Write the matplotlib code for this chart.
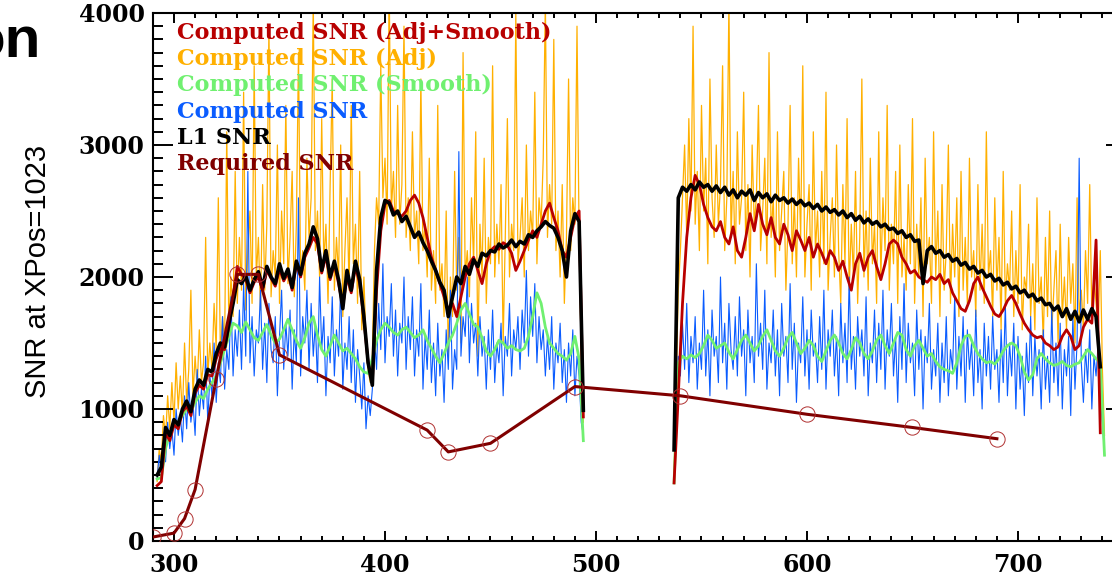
import numpy as np
import matplotlib
matplotlib.use("Agg")
import matplotlib.pyplot as plt
from matplotlib.ticker import MultipleLocator

# ---------------- data ----------------
# Wavelength grids: two detector segments
seg_a_start, seg_b_start = 292, 537

# L1 SNR (2 nm sampling)
l1_a = [500, 560, 860, 800, 920, 880, 1000, 1060, 980, 1150, 1220,
        1180, 1300, 1280, 1420, 1500, 1470, 1650, 1800, 1980, 1950,
        2010, 1900, 1980, 2040, 1920, 2080, 2000, 1950, 2100, 1990,
        2060, 1920, 2120, 2020, 2180, 2250, 2380, 2290, 2050, 2200,
        2000, 2120, 1980, 1760, 2050, 1900, 2120, 1980, 1700, 1350,
        1180, 2050, 2450, 2580, 2560, 2470, 2500, 2420, 2460, 2380,
        2300, 2340, 2260, 2200, 2120, 2050, 1960, 1900, 1700, 1850,
        2000, 1950, 2080, 2020, 2130, 2080, 2180, 2160, 2200, 2190,
        2250, 2220, 2240, 2280, 2230, 2270, 2250, 2320, 2300, 2350,
        2380, 2420, 2390, 2370, 2300, 2200, 2000, 2350, 2480, 2420,
        990]
l1_b = [690, 2600, 2680, 2650, 2700, 2660, 2720, 2680, 2700, 2650, 2690,
        2640, 2680, 2620, 2660, 2600, 2650, 2620, 2660, 2580, 2640,
        2600, 2630, 2570, 2620, 2580, 2600, 2560, 2590, 2550, 2580,
        2540, 2560, 2520, 2550, 2500, 2530, 2490, 2510, 2470, 2500,
        2450, 2480, 2430, 2460, 2410, 2440, 2400, 2420, 2380, 2400,
        2360, 2370, 2330, 2350, 2300, 2320, 2270, 2280, 1950, 2200,
        2230, 2180, 2200, 2150, 2170, 2120, 2140, 2090, 2110, 2060,
        2080, 2030, 2050, 2000, 2020, 1970, 1990, 1940, 1960, 1910,
        1930, 1880, 1900, 1850, 1870, 1820, 1840, 1790, 1800, 1750,
        1780, 1700, 1760, 1680, 1740, 1660, 1750, 1680, 1760, 1700,
        1320]

# Computed SNR (Adj+Smooth), 2 nm sampling
adj_smooth_a = [420, 450, 820, 760, 880, 850, 980, 1020, 950, 1120, 1180,
                1150, 1260, 1250, 1380, 1460, 1450, 1620, 1850, 2080, 2020,
                1980, 1880, 1960, 2000, 1900, 2050, 1990, 1930, 2060, 1970,
                2030, 1900, 2100, 2000, 2150, 2220, 2300, 2250, 2030, 2160,
                1980, 2100, 1950, 1780, 2000, 1880, 2080, 1950, 1680, 1350,
                1200, 1900, 2350, 2550, 2580, 2500, 2480, 2460, 2500, 2580,
                2620, 2560, 2450, 2300, 2150, 2050, 1950, 1850, 1750, 1800,
                1700, 1850, 2000, 2100, 2150, 2050, 1950, 2100, 2200, 2230,
                2210, 2260, 2240, 2180, 2050, 2120, 2200, 2280, 2350, 2300,
                2400, 2500, 2560, 2450, 2350, 2200, 2150, 2300, 2450, 2500,
                940]
adj_smooth_b = [440, 1100, 1800, 2300, 2600, 2770, 2700, 2550, 2450, 2380, 2350,
                2420, 2300, 2250, 2380, 2200, 2150, 2300, 2480, 2350, 2550,
                2400, 2320, 2450, 2300, 2250, 2400, 2320, 2200, 2350, 2280,
                2200, 2300, 2150, 2250, 2180, 2100, 2200, 2150, 2050, 2120,
                2000, 1900, 2100, 2180, 2050, 2150, 2200, 2080, 1980, 2100,
                2250, 2280, 2250, 2150, 2100, 2030, 2050, 2000, 1980, 1960,
                2000, 1980, 2020, 1950, 1980, 1880, 1820, 1760, 1740, 1820,
                1950, 2000, 1920, 1850, 1780, 1720, 1700, 1750, 1820, 1860,
                1800, 1720, 1650, 1600, 1560, 1540, 1550, 1500, 1480, 1450,
                1470, 1550, 1600, 1550, 1450, 1480, 1620, 1680, 1650, 2280,
                820]

# Computed SNR (Smooth), 2 nm sampling
smooth_a = [470, 480, 700, 820, 880, 900, 950, 1000, 980, 1050, 1100,
            1080, 1150, 1200, 1250, 1350, 1450, 1550, 1650, 1630, 1580,
            1660, 1600, 1540, 1520, 1580, 1640, 1560, 1500, 1530, 1600,
            1680, 1600, 1520, 1460, 1540, 1650, 1700, 1560, 1450, 1400,
            1480, 1560, 1500, 1440, 1460, 1420, 1380, 1320, 1280, 1270,
            1380, 1520, 1600, 1650, 1620, 1580, 1560, 1600, 1620, 1580,
            1540, 1560, 1600, 1520, 1460, 1400, 1350, 1420, 1500, 1560,
            1650, 1750, 1800, 1720, 1640, 1620, 1540, 1440, 1400, 1450,
            1520, 1500, 1460, 1480, 1450, 1440, 1460, 1550, 1700, 1880,
            1800, 1620, 1500, 1460, 1420, 1400, 1370, 1420, 1550, 1380,
            760]
smooth_b = [440, 1350, 1400, 1380, 1410, 1390, 1420, 1480, 1560, 1520, 1460,
            1480, 1500, 1430, 1380, 1450, 1520, 1560, 1500, 1440, 1480,
            1550, 1600, 1520, 1440, 1400, 1460, 1540, 1580, 1500, 1420,
            1460, 1520, 1480, 1400, 1360, 1440, 1520, 1560, 1500, 1420,
            1380, 1450, 1540, 1500, 1420, 1380, 1440, 1520, 1560, 1480,
            1420, 1500, 1580, 1560, 1450, 1400, 1480, 1520, 1460, 1400,
            1420, 1360, 1320, 1300, 1290, 1270, 1350, 1480, 1550, 1560,
            1480, 1420, 1380, 1350, 1360, 1340, 1380, 1440, 1480, 1500,
            1480, 1400, 1280, 1220, 1260, 1380, 1420, 1380, 1350, 1330,
            1340, 1360, 1330, 1320, 1340, 1350, 1400, 1450, 1420, 1380,
            1350, 650]

# Computed SNR (Adj), 1 nm sampling
adj_a = [450, 700, 600, 950, 780, 1100, 850, 1200, 900, 1350,
         1000, 1250, 950, 1500, 1050, 1300, 1900, 1100, 1400, 1150,
         1600, 1200, 1350, 2300, 1250, 1500, 1300, 1800, 1450, 2600,
         1400, 1700, 1500, 3100, 1600, 2000, 1700, 2800, 1800, 2300,
         1900, 3400, 1750, 2200, 2500, 1800, 3600, 2000, 2300, 1750,
         2700, 1900, 2400, 3900, 1850, 2200, 2000, 3000, 1800, 2500,
         2100, 3300, 1950, 2300, 2800, 1850, 2400, 3700, 2000, 2200,
         1900, 2900, 2300, 2600, 4100, 2200, 2500, 2000, 3200, 2100,
         2400, 1800, 2700, 3500, 1900, 2300, 2000, 3000, 1700, 2200,
         2600, 1900, 3300, 2100, 2400, 1800, 2800, 1600, 2000, 1500,
         1300, 1200, 1400, 2200, 2600, 2400, 3600, 2600, 2900, 2400,
         4200, 2500, 2800, 2300, 3300, 2400, 2700, 3900, 2300, 2600,
         2200, 3100, 2300, 2500, 2100, 3500, 2200, 2400, 2000, 2900,
         1900, 2200, 1800, 3300, 1900, 2100, 1700, 2500, 1400, 2000,
         1700, 2800, 1900, 2300, 1500, 3700, 2000, 2200, 1850, 2600,
         2100, 3100, 1400, 2400, 2000, 2900, 1800, 2300, 2100, 3600,
         2000, 2400, 2100, 2700, 1500, 2300, 3200, 2000, 2400, 2200,
         4000, 2100, 2300, 2600, 2000, 3000, 2200, 2500, 2300, 3400,
         2100, 2600, 2400, 2900, 4100, 2300, 2700, 2400, 3800, 2200,
         2500, 2000, 2700, 1800, 2300, 3500, 2200, 2600, 2400, 3900,
         2300, 1400, 900]
adj_b = [500, 1200, 1900, 2200, 2600, 3000, 2300, 3200, 2500, 3900,
         2400, 2800, 2200, 3300, 2500, 2900, 2100, 3500, 2600, 2300,
         3000, 2400, 2700, 3600, 2200, 2600, 4100, 2300, 2800, 2100,
         3100, 2400, 2600, 3400, 2200, 2700, 2000, 3000, 2400, 2600,
         3300, 2200, 2500, 2900, 2100, 3700, 2300, 2600, 2000, 3100,
         2200, 2500, 2800, 1900, 2400, 3300, 2100, 2600, 2000, 2900,
         2300, 3600, 2000, 2400, 2700, 1900, 3100, 2200, 2500, 2000,
         2800, 2100, 3400, 1900, 2300, 2600, 2000, 3000, 2200, 1800,
         2700, 2100, 3200, 1900, 2400, 2000, 2800, 1800, 2300, 3500,
         2000, 2500, 1900, 2900, 2100, 2400, 1800, 3100, 2000, 2600,
         2200, 3300, 1900, 2400, 2100, 2800, 1800, 3000, 2000, 2300,
         1900, 2700, 2100, 3200, 1800, 2400, 2000, 2600, 1700, 2900,
         2100, 2300, 1800, 3100, 2000, 2500, 1700, 2700, 1900, 2200,
         3000, 1800, 2400, 2000, 2600, 1700, 2800, 1900, 2300, 1800,
         2900, 2000, 2200, 1700, 2700, 1900, 2400, 1800, 3100, 2000,
         2200, 1700, 2600, 1900, 2300, 1600, 2800, 1800, 2100, 1900,
         2500, 1700, 2200, 1800, 2700, 1600, 2000, 1900, 2400, 1700,
         2100, 1600, 2600, 1800, 2000, 1500, 2300, 1700, 2500, 1600,
         1900, 2200, 1500, 2400, 1700, 2000, 1600, 2300, 1800, 2100,
         1500, 2600, 1700, 1900, 1600, 2200, 1800, 2700, 1700, 2000,
         1800, 1600, 2200, 1300, 800]

# Computed SNR, 1 nm sampling
comp_a = [480, 650, 500, 750, 600, 900, 700, 850, 650, 1000,
          800, 950, 750, 1100, 850, 1200, 900, 1050, 800, 1300,
          950, 1150, 1000, 1400, 900, 1250, 1100, 1500, 1050, 1350,
          1200, 1700, 1150, 1450, 1300, 1850, 1250, 1600, 1400, 1750,
          1300, 1950, 1400, 2800, 1350, 1700, 1250, 1600, 1500, 1900,
          1300, 1650, 1200, 1800, 1450, 1350, 1700, 1100, 1550, 1900,
          1300, 1650, 1400, 1750, 1150, 1600, 1350, 2600, 1250, 1700,
          1500, 1900, 1300, 1800, 1400, 1650, 1200, 2000, 1450, 1700,
          1100, 1550, 1350, 1850, 1250, 1600, 1400, 1950, 1150, 1500,
          1300, 1700, 1200, 1600, 1050, 1450, 1250, 1000, 1350, 850,
          1100, 950, 1150, 1550, 1300, 1800, 1450, 2100, 1350, 1700,
          1550, 1950, 1400, 1750, 1250, 1650, 1500, 2000, 1300, 1700,
          1450, 1850, 1250, 1600, 1400, 1950, 1150, 1550, 1300, 1750,
          1200, 1500, 1100, 1650, 1250, 1450, 1050, 1600, 1300, 1900,
          1150, 1450, 1300, 2950, 1400, 1700, 1550, 2000, 1350, 1800,
          1500, 1650, 1250, 1700, 1400, 1550, 1150, 1600, 1300, 1750,
          1200, 1500, 1350, 1650, 1100, 1550, 1400, 1800, 1250, 1600,
          1450, 1700, 1300, 1750, 1500, 2050, 1400, 1850, 1550, 1950,
          1350, 1700, 1450, 1600, 1250, 1550, 1300, 1700, 1150, 1500,
          1350, 1650, 1200, 1450, 1050, 1500, 1250, 1600, 1100, 1400,
          1250, 900, 800]
comp_b = [450, 900, 1400, 1250, 1650, 1300, 1800, 1200, 1550, 1350,
          1700, 1150, 1500, 1300, 1900, 1250, 1600, 1100, 1750, 1400,
          1550, 1200, 2000, 1350, 1650, 1150, 1800, 1450, 1300, 1700,
          1250, 1850, 1400, 1600, 1100, 1750, 1350, 1550, 1200, 2100,
          1400, 1650, 1300, 1900, 1150, 1500, 1350, 1750, 1250, 1600,
          1100, 1800, 1400, 1550, 1200, 1950, 1300, 1650, 1050, 1500,
          1350, 1850, 1250, 1600, 1150, 1750, 1400, 1500, 1200, 1700,
          1300, 1900, 1150, 1600, 1400, 1750, 1250, 1550, 1100, 1800,
          1350, 1650, 1200, 2000, 1300, 1550, 1150, 1700, 1400, 1600,
          1250, 1850, 1100, 1500, 1350, 1750, 1200, 1650, 1300, 1900,
          1150, 1600, 1400, 1800, 1250, 1550, 1050, 1700, 1300, 1950,
          1200, 1650, 1350, 1500, 1100, 1750, 1300, 1600, 1000, 1550,
          1350, 1800, 1150, 1450, 1250, 1650, 1050, 1500, 1200, 1700,
          1100, 1450, 1300, 1850, 1150, 1550, 1250, 1700, 1050, 1600,
          1300, 1500, 1100, 1750, 1200, 1450, 1000, 1650, 1250, 1550,
          1150, 1700, 1300, 1450, 1050, 1600, 1200, 1800, 1100, 1500,
          1250, 1650, 1000, 1550, 1150, 1400, 950, 1500, 1200, 1700,
          1100, 1550, 1250, 1450, 1000, 1600, 1150, 1400, 1050, 1750,
          1200, 1500, 1100, 1650, 1000, 1450, 1250, 1550, 950, 1700,
          1150, 1500, 2900, 1350, 1050, 1450, 1200, 1600, 1000, 1400,
          1250, 1500, 1100, 900, 650]

# Required SNR specification points
req_wl = [290, 300, 305, 310, 320, 330, 340, 350, 420, 430, 450, 490, 540, 600, 650, 690]
req_snr = [30, 60, 170, 390, 1230, 2020, 2020, 1410, 840, 675, 740, 1170, 1100, 960, 860, 775]

legend_labels = ["Computed SNR (Adj+Smooth)", "Computed SNR (Adj)",
                 "Computed SNR (Smooth)", "Computed SNR", "L1 SNR", "Required SNR"]
legend_colors = ["#B80000", "#FFB000", "#70F070", "#0A5CFF", "#000000", "#800000"]


def joined(a, b, step):
    """Place two segments on their wavelength grid with a gap between them."""
    xa = seg_a_start + step * np.arange(len(a))
    xb = seg_b_start + step * np.arange(len(b))
    x = np.concatenate([xa, [np.nan], xb])
    y = np.concatenate([np.asarray(a, float), [np.nan], np.asarray(b, float)])
    return x, y


# ---------------- figure ----------------
W, H = 1112, 582
fig = plt.figure(figsize=(W / 100, H / 100), dpi=100)
ax_left, ax_right, ax_top, ax_bot = 152.9, 1125.6, 13, 541
ax = fig.add_axes([ax_left / W, (H - ax_bot) / H,
                   (ax_right - ax_left) / W, (ax_bot - ax_top) / H])

x, y = joined(adj_a, adj_b, 1)
ax.plot(x, y, color=legend_colors[1], lw=0.9, zorder=1)
x, y = joined(comp_a, comp_b, 1)
ax.plot(x, y, color=legend_colors[3], lw=0.8, zorder=2)
x, y = joined(smooth_a, smooth_b, 2)
ax.plot(x, y, color=legend_colors[2], lw=2.0, zorder=3)
x, y = joined(adj_smooth_a, adj_smooth_b, 2)
ax.plot(x, y, color=legend_colors[0], lw=2.0, zorder=4)
x, y = joined(l1_a, l1_b, 2)
ax.plot(x, y, color=legend_colors[4], lw=2.6, zorder=5)

ax.plot(req_wl, req_snr, color=legend_colors[5], lw=2.2, zorder=6)
ax.plot(req_wl, req_snr, ls="none", marker="o", ms=11, mfc="none",
        mec="#B03030", mew=0.7, zorder=7)

ax.set_xlim(290, 751)
ax.set_ylim(0, 4000)
ax.xaxis.set_major_locator(MultipleLocator(100))
ax.xaxis.set_minor_locator(MultipleLocator(10))
ax.yaxis.set_major_locator(MultipleLocator(1000))
ax.yaxis.set_minor_locator(MultipleLocator(100))

for s in ax.spines.values():
    s.set_linewidth(1.5)
ax.tick_params(which="both", direction="in", top=True, right=True, width=1.4)
ax.tick_params(axis="x", which="major", length=7.5, pad=9)
ax.tick_params(axis="x", which="minor", length=3.8)
ax.tick_params(axis="y", which="major", length=14.5, pad=6)
ax.tick_params(axis="y", which="minor", length=7.5)
for lab in ax.get_xticklabels() + ax.get_yticklabels():
    lab.set_fontfamily("DejaVu Serif")
    lab.set_fontweight("bold")
    lab.set_fontsize(17)

fig.text(38 / W, 1 - 271 / H, "SNR at XPos=1023", rotation=90,
         ha="center", va="center", fontsize=21, family="Liberation Sans")
fig.text(41 / W, 1 - 58 / H, "on", ha="right", va="baseline",
         fontsize=42, fontweight="bold", family="Liberation Sans")

for i, (lab, col) in enumerate(zip(legend_labels, legend_colors)):
    fig.text(177 / W, 1 - (33 + 26.2 * i) / H, lab, color=col,
             ha="left", va="center", fontsize=16, fontweight="bold",
             family="DejaVu Serif")

fig.savefig("out.png", dpi=100)
